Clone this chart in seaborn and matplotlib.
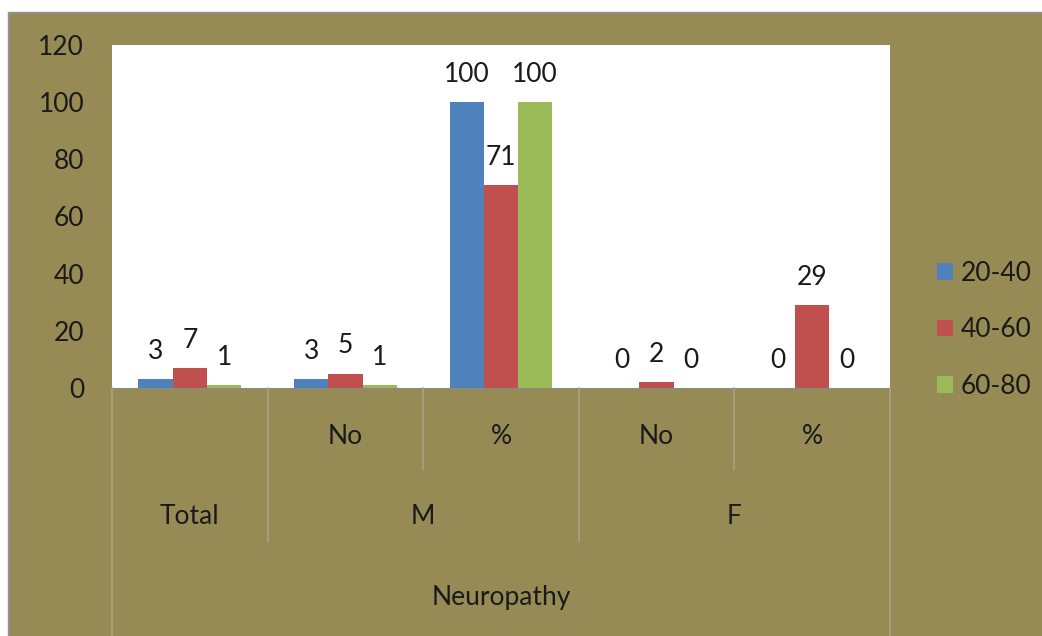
import pandas as pd
import seaborn as sns
import matplotlib.pyplot as plt
from matplotlib.patches import Rectangle

# Chart data
categories = ["Total", "M No", "M %", "F No", "F %"]
age_groups = ["20-40", "40-60", "60-80"]
vals_20_40 = [3, 3, 100, 0, 0]
vals_40_60 = [7, 5, 71, 2, 29]
vals_60_80 = [1, 1, 100, 0, 0]
sub_labels = ["", "No", "%", "No", "%"]
colors = ["#4F81BD", "#C0504D", "#9BBB59"]

df = pd.DataFrame({
    "cat": categories * 3,
    "age": [g for g in age_groups for _ in categories],
    "value": vals_20_40 + vals_40_60 + vals_60_80,
})

sns.set_style("white")
plt.rcParams['font.family'] = ['Lato', 'DejaVu Sans']
FS = 19
TXT = "#1a1a1a"

W, H = 1042, 636
olive = "#978B55"
fig = plt.figure(figsize=(W / 100, H / 100), dpi=100)
fig.patch.set_facecolor(olive)
# white margins at top and left of the picture
fig.patches.append(Rectangle((0, 1 - 12 / H), 1, 12 / H, transform=fig.transFigure,
                             facecolor="white", edgecolor="none"))
fig.patches.append(Rectangle((0, 0), 8 / W, 1, transform=fig.transFigure,
                             facecolor="white", edgecolor="none"))
fig.add_artist(plt.Line2D([8 / W, 8 / W, 1], [0, 1 - 12 / H, 1 - 12 / H], color="#8f93a8",
                          linewidth=1, transform=fig.transFigure))

x0, x1, y0, y1 = 112, 890, 45, 388
ax = fig.add_axes([x0 / W, 1 - y1 / H, (x1 - x0) / W, (y1 - y0) / H])
ax.set_facecolor("white")

sns.barplot(data=df, x="cat", y="value", hue="age", order=categories, hue_order=age_groups,
            palette=colors, width=0.66, saturation=1, linewidth=0, ax=ax, legend=True)

for cont in ax.containers:
    ax.bar_label(cont, fmt="%g", padding=11, fontsize=FS, color=TXT)

ax.set_ylim(0, 120)
ax.set_yticks(range(0, 121, 20))
ax.set_xlim(-0.5, 4.5)
ax.tick_params(axis="y", labelsize=FS, pad=20, length=0, colors=TXT)
ax.tick_params(axis="x", length=0, labelbottom=False)
ax.set_xlabel("")
ax.set_ylabel("")
for s in ["top", "right", "left"]:
    ax.spines[s].set_visible(False)
ax.spines["bottom"].set_color("#8a8a8a")

# multi-level category axis
sep = "#a8a287"
def px_y(y):
    return 1 - y / H
def px_x(x):
    return x / W

grp = (x1 - x0) / 5
for i, lab in enumerate(sub_labels):
    if lab:
        fig.text(px_x(x0 + grp * (i + 0.5)), px_y(436), lab, ha="center", va="center",
                 fontsize=FS, color=TXT)
fig.text(px_x(x0 + grp * 0.5), px_y(517), "Total", ha="center", va="center", fontsize=FS, color=TXT)
fig.text(px_x(x0 + grp * 2), px_y(517), "M", ha="center", va="center", fontsize=FS, color=TXT)
fig.text(px_x(x0 + grp * 4), px_y(517), "F", ha="center", va="center", fontsize=FS, color=TXT)
fig.text(px_x((x0 + x1) / 2), px_y(597), "Neuropathy", ha="center", va="center", fontsize=FS, color=TXT)

lines = [(x0, H), (x0 + grp, 542), (x0 + grp * 2, 470), (x0 + grp * 3, 542), (x0 + grp * 4, 470), (x1, H)]
for xx, yb in lines:
    fig.add_artist(plt.Line2D([px_x(xx), px_x(xx)], [px_y(y1), px_y(yb)], color=sep, linewidth=1.2,
                              transform=fig.transFigure))

leg = ax.legend(loc="center left", bbox_to_anchor=(1.03, 0.17), frameon=False, fontsize=FS,
                handlelength=0.6, handleheight=0.6, handletextpad=0.3, labelspacing=1.2)
for t in leg.get_texts():
    t.set_color(TXT)

plt.savefig("out.png", dpi=100, facecolor=fig.get_facecolor())
